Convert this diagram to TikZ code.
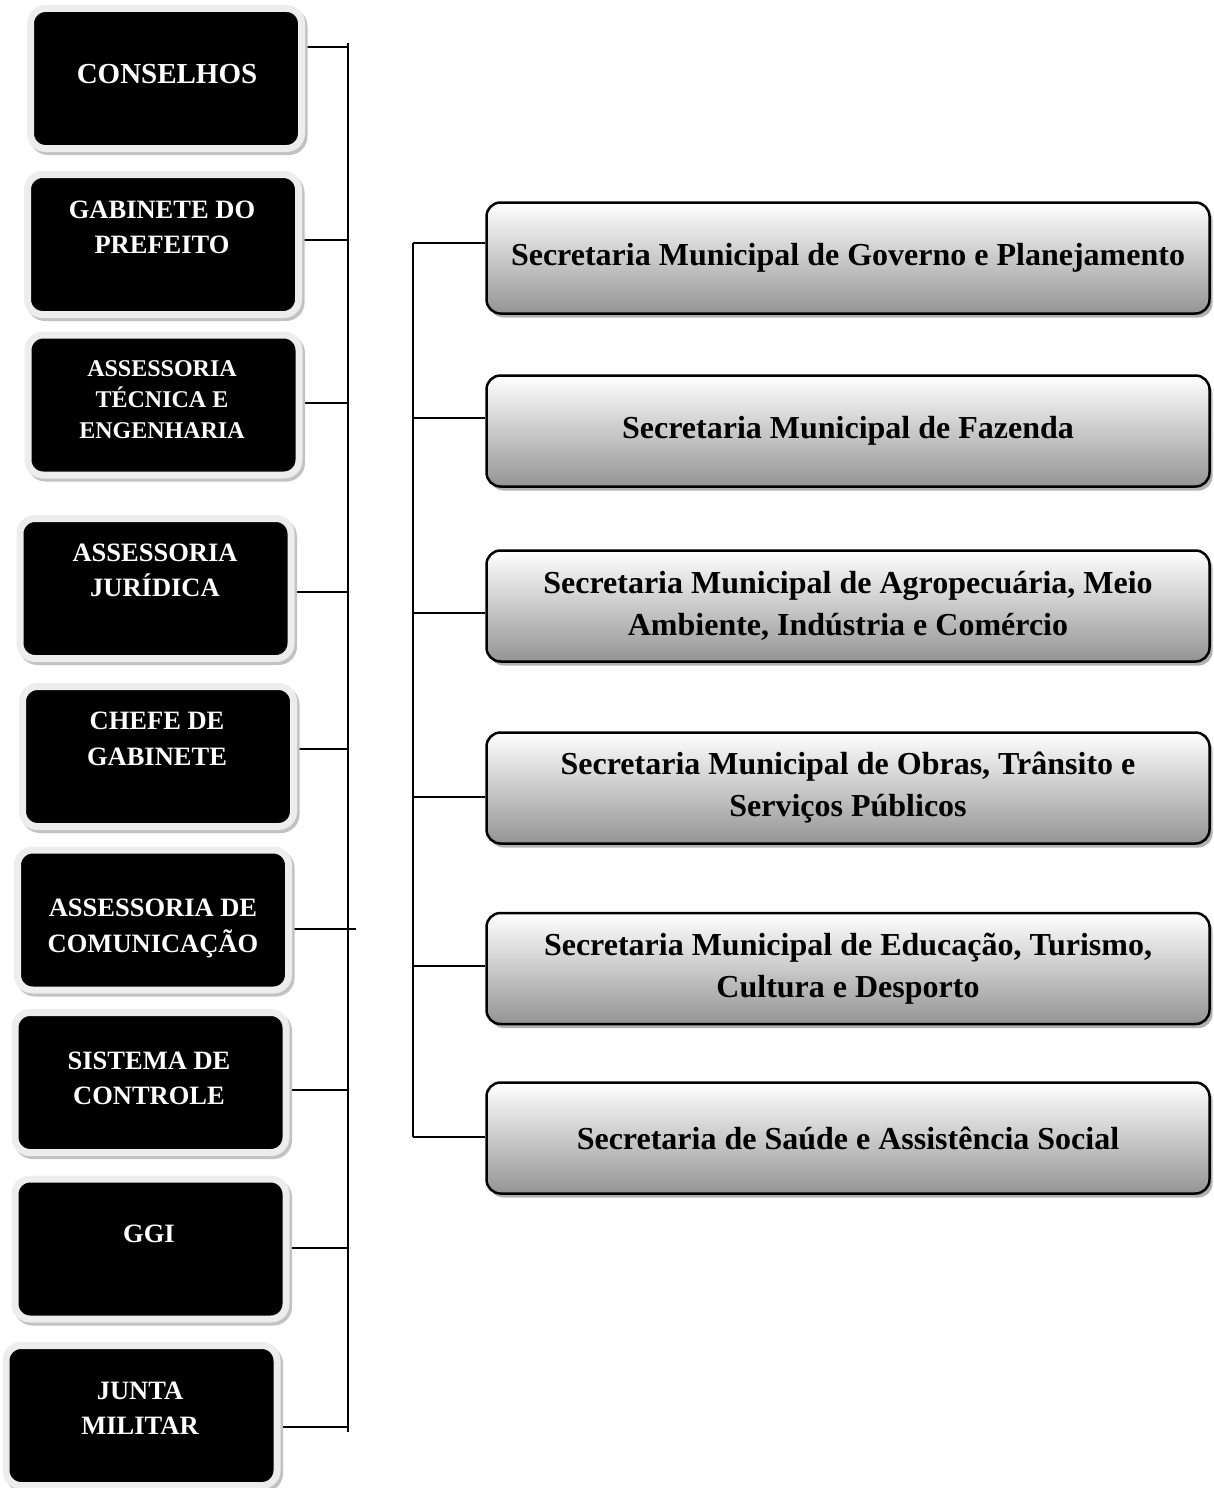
\documentclass[tikz,border=0pt]{standalone}
\usepackage{fontspec}
\setmainfont{Liberation Serif}
\usetikzlibrary{shadows}
\newcommand\fszA{\fontsize{26.5}{35.5}\selectfont}
\newcommand\fszB{\fontsize{29}{36}\selectfont}
\newcommand\fszC{\fontsize{24}{31}\selectfont}
\newcommand\fszR{\fontsize{32}{42}\selectfont}
\begin{document}
\begin{tikzpicture}[x=1pt,y=-1pt,
  lbox/.style={fill=black, draw=black!7, line width=7pt, rounded corners=15pt,
    minimum width=271pt, minimum height=140pt, inner sep=0pt,
    preaction={fill=none, draw=black!24, line width=7pt, transform canvas={shift={(2.5pt,-3pt)}}}},
  ltext/.style={text=white, font=\bfseries\fszA, align=center, inner sep=0pt},
  rbox/.style={draw=black, line width=2.5pt, rounded corners=14pt,
    top color=white, bottom color=black!42,
    minimum width=723pt, minimum height=111pt, inner sep=0pt, align=center,
    font=\bfseries\fszR,
    drop shadow={shadow xshift=3pt, shadow yshift=-4pt, fill=black!30, opacity=1}},
  conn/.style={line width=1.5pt, draw=black}]
\useasboundingbox (0,0) rectangle (1214,1488);
% bus coordinates
\coordinate (Ltop) at (348,43);
\coordinate (Lbot) at (348,1432);
\coordinate (L1) at (348,47);
\coordinate (L2) at (348,240);
\coordinate (L3) at (348,403);
\coordinate (L4) at (348,592);
\coordinate (L5) at (348,749);
\coordinate (L6) at (356,929);
\coordinate (L7) at (348,1090);
\coordinate (L8) at (348,1248);
\coordinate (L9) at (348,1427);
\coordinate (Rtop) at (413,243);
\coordinate (Rbot) at (413,1137);
\coordinate (R1) at (413,243);
\coordinate (R2) at (413,418);
\coordinate (R3) at (413,613);
\coordinate (R4) at (413,797);
\coordinate (R5) at (413,966);
\coordinate (R6) at (413,1137);
% left boxes (positions)
\path (166,78.5) coordinate (p1) (163,244.5) coordinate (p2) (163.5,405) coordinate (p3)
      (155.5,588.5) coordinate (p4) (158,756.5) coordinate (p5) (153,920) coordinate (p6)
      (150.5,1082.5) coordinate (p7) (150.5,1249) coordinate (p8) (141.5,1415.5) coordinate (p9);
% connectors drawn first (under boxes)
\draw[conn] (Ltop) -- (Lbot);
\draw[conn] (Rtop) -- (Rbot);
\foreach \i in {1,...,9} { \draw[conn] (p\i |- L\i) -- (L\i); }
% left boxes
\foreach \i in {1,...,9} { \node[lbox] (c\i) at (p\i) {}; }
\node[ltext, font=\bfseries\fszB] (t1) at (167,74) {CONSELHOS};
\node[ltext] (t2) at (162,227.5) {GABINETE DO\\PREFEITO};
\node[ltext, font=\bfseries\fszC] (t3) at (162,400) {ASSESSORIA\\TÉCNICA E\\ENGENHARIA};
\node[ltext] (t4) at (155,570.5) {ASSESSORIA\\JURÍDICA};
\node[ltext] (t5) at (157,739) {CHEFE DE\\GABINETE};
\node[ltext] (t6) at (153,928.5) {ASSESSORIA DE\\COMUNICAÇÃO};
\node[ltext] (t7) at (149,1078.5) {SISTEMA DE\\CONTROLE};
\node[ltext] (t8) at (149,1234) {GGI};
\node[ltext] (t9) at (140,1408) {JUNTA\\MILITAR};
% right boxes
\node[rbox] (r1) at (848,258) {Secretaria Municipal de Governo e Planejamento};
\node[rbox] (r2) at (848,431) {Secretaria Municipal de Fazenda};
\node[rbox] (r3) at (848,606) {Secretaria Municipal de Agropecuária, Meio\\Ambiente, Indústria e Comércio};
\node[rbox] (r4) at (848,788) {Secretaria Municipal de Obras, Trânsito e\\Serviços Públicos};
\node[rbox] (r5) at (848,968.5) {Secretaria Municipal de Educação, Turismo,\\Cultura e Desporto};
\node[rbox] (r6) at (848,1138) {Secretaria de Saúde e Assistência Social};
\foreach \i in {1,...,6} { \draw[conn] (R\i) -- (r\i.west |- R\i); }
\end{tikzpicture}
\end{document}
